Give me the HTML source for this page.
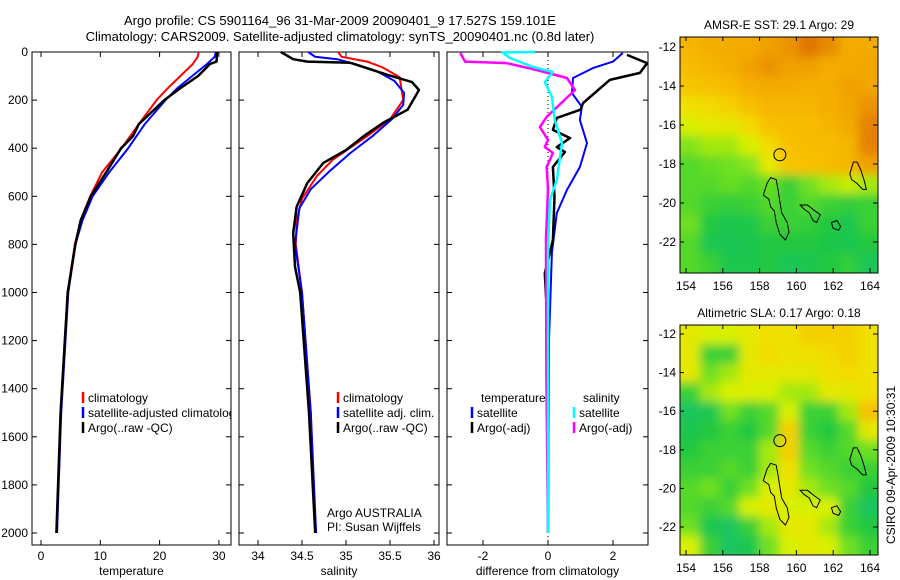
<!DOCTYPE html>
<html><head><meta charset="utf-8"><style>
html,body{margin:0;padding:0;background:#fff}
svg{display:block;font-family:"Liberation Sans",sans-serif}
</style></head><body>
<svg id="fig" width="900" height="580" viewBox="0 0 900 580" xmlns="http://www.w3.org/2000/svg">
<text x="340" y="25" font-size="13" text-anchor="middle">Argo profile: CS 5901164_96 31-Mar-2009 20090401_9 17.527S 159.101E</text>
<text x="340" y="41" font-size="13" text-anchor="middle">Climatology: CARS2009. Satellite-adjusted climatology: synTS_20090401.nc (0.8d later)</text>
<text transform="translate(895,465) rotate(-90)" font-size="12" text-anchor="middle">CSIRO 09-Apr-2009 10:30:31</text>
<g id="g"></g>
</svg>
<script>
// ---------- data ----------
const depthTicks=[0,200,400,600,800,1000,1200,1400,1600,1800,2000];
const tempTicks=[0,10,20,30];
const salTicks=[34,34.5,35,35.5,36];
const salTickLabels=["34","34.5","35","35.5","36"];
const diffTicks=[-2,0,2];
const tClimD=[0,20,50,100,150,200,300,400,500,600,700,800,1000,1200,1500,1800,2000];
const tClimV=[26.6,26.4,25.6,23.5,21.4,19.5,16.5,13.6,10.3,8.3,6.7,5.7,4.5,4.0,3.3,2.9,2.7];
const tSatD=[0,20,50,100,150,200,300,400,500,600,700,800,1000,1500,2000];
const tSatV=[29.5,29.3,28.0,25.5,23.0,21.0,17.5,14.7,11.5,8.7,7.0,5.8,4.6,3.4,2.7];
const tArgD=[0,40,50,100,150,200,300,350,400,500,600,700,800,1000,1500,2000];
const tArgV=[29.7,29.6,28.5,26.5,23.5,20.8,16.5,15.5,13.5,11.0,8.4,6.7,5.8,4.5,3.3,2.6];
const sClimD=[0,20,40,65,105,200,280,350,448,515,610,700,800,1000,1500,2000];
const sClimV=[34.91,34.95,35.24,35.42,35.61,35.65,35.5,35.24,34.85,34.67,34.5,34.44,34.43,34.5,34.6,34.65];
const sSatD=[0,20,30,50,80,120,170,220,280,350,420,500,570,650,800,1000,1500,2000];
const sSatV=[34.57,34.65,34.9,35.1,35.35,35.55,35.66,35.65,35.52,35.3,35.05,34.8,34.6,34.47,34.42,34.5,34.6,34.66];
const sArgD=[0,30,40,45,95,125,158,240,295,350,408,462,545,643,752,893,1000,1500,2000];
const sArgV=[34.26,34.4,34.56,35.05,35.47,35.75,35.83,35.7,35.42,35.2,35.0,34.74,34.56,34.44,34.4,34.42,34.48,34.58,34.65];
const dTSatD=[4,40,67,108,171,228,283,379,478,574,670,835,1200,2000];
const dTSatV=[2.3,2.0,1.38,0.77,0.74,1.04,0.98,1.2,0.98,0.58,0.27,0.12,0.03,0];
const dTArgD=[12,46,87,116,212,240,274,324,358,395,416,478,603,782,920,1043,1200,2000];
const dTArgV=[2.43,3.05,2.83,1.9,1.08,1.0,0.27,0.15,0.68,0.27,0.52,0.15,0.2,0.15,-0.1,-0.05,0,0];
const dSArgD=[4,40,46,75,108,158,270,312,366,395,420,478,570,780,1350,2000];
const dSArgV=[-2.7,-2.55,-1.27,-0.35,0.58,0.83,-0.04,-0.25,0,-0.1,0.15,-0.04,0,-0.06,-0.05,0];
const dSSatD=[0,2,25,62,83,125,187,283,379,532,615,800,2000];
const dSSatV=[-0.4,-1.4,-1.17,-0.46,0.15,-0.1,0.12,0.21,0.43,0.27,0.06,0,0];
const sstGrid=[
[.75,.78,.8,.8,.85,.88,.95,.9,.8,.8],
[.72,.75,.78,.85,.88,.85,.85,.8,.8,.82],
[.68,.7,.72,.78,.8,.8,.78,.78,.85,.82],
[.6,.62,.65,.7,.75,.75,.75,.78,.82,.88],
[.5,.55,.55,.62,.7,.72,.72,.75,.8,.92],
[.42,.45,.45,.5,.62,.7,.72,.72,.75,.92],
[.35,.38,.4,.42,.55,.68,.7,.72,.75,.85],
[.35,.35,.38,.35,.38,.3,.4,.45,.48,.45],
[.35,.3,.28,.3,.35,.3,.35,.3,.28,.3],
[.4,.25,.2,.22,.3,.3,.28,.25,.2,.3],
[.35,.2,.18,.2,.25,.25,.25,.22,.2,.25],
[.35,.3,.2,.2,.25,.18,.2,.25,.28,.18]];
const slaGrid=[
[.55,.5,.5,.55,.6,.6,.65,.65,.65,.6],
[.55,.3,.3,.55,.62,.58,.6,.62,.65,.6],
[.55,.4,.45,.55,.55,.55,.55,.6,.62,.6],
[.3,.45,.5,.52,.5,.45,.45,.55,.55,.6],
[.15,.2,.4,.3,.35,.5,.3,.3,.45,.7],
[.2,.25,.3,.25,.35,.65,.3,.25,.35,.55],
[.25,.3,.3,.3,.45,.65,.35,.3,.35,.4],
[.3,.3,.35,.3,.45,.6,.4,.35,.3,.3],
[.35,.4,.3,.4,.5,.55,.45,.4,.35,.25],
[.35,.3,.35,.5,.55,.5,.5,.5,.3,.15],
[.4,.2,.15,.3,.45,.55,.55,.45,.3,.25],
[.5,.3,.15,.2,.4,.5,.55,.5,.4,.3]];
const latTicks=[-12,-14,-16,-18,-20,-22];
const lonTicks=[154,156,158,160,162,164];
const reef1Lon=[158.4,158.6,158.9,159.0,159.1,159.2,159.5,159.6,159.4,159.1,158.9,158.8,158.6,158.5,158.2,158.4];
const reef1Lat=[-19.0,-18.7,-18.8,-19.3,-19.9,-20.5,-21.0,-21.5,-21.9,-21.6,-21.0,-20.4,-20.2,-19.8,-19.6,-19.0];
const reef2Lon=[160.2,160.6,161.0,161.3,161.1,160.9,160.7,160.4,160.2];
const reef2Lat=[-20.1,-20.1,-20.4,-20.6,-21.0,-20.9,-20.5,-20.3,-20.1];
const reef3Lon=[162.9,163.1,163.3,163.5,163.7,163.8,163.6,163.3,163.0,162.9];
const reef3Lat=[-18.5,-17.9,-17.9,-18.3,-18.9,-19.3,-19.3,-19.0,-18.8,-18.5];
const reef4Lon=[161.9,162.2,162.4,162.3,162.0,161.9];
const reef4Lat=[-21.0,-20.9,-21.2,-21.4,-21.3,-21.0];
const argoLon=159.101, argoLat=-17.527;

// ---------- helpers ----------
const NS="http://www.w3.org/2000/svg";
const G=document.getElementById('g');
function el(t,a,p){const e=document.createElementNS(NS,t);for(const k in a)e.setAttribute(k,a[k]);(p||G).appendChild(e);return e;}
const yD=d=>52+d*0.2405;
function panel(name,x0,x1,xs,ticks,labels,xlabel){
  const r=el('rect',{x:x0,y:52,width:x1-x0,height:493,fill:'none',stroke:'#000','stroke-width':1});
  
  
  ticks.forEach((v,i)=>{const x=xs(v);
    el('line',{x1:x,x2:x,y1:52,y2:57,stroke:'#000'});el('line',{x1:x,x2:x,y1:545,y2:540,stroke:'#000'});
    const t=el('text',{x:x,y:560,'font-size':12,'text-anchor':'middle'});t.textContent=labels[i];
    
    });
  depthTicks.forEach(d=>{const y=yD(d);
    el('line',{x1:x0,x2:x0+5,y1:y,y2:y,stroke:'#000'});el('line',{x1:x1,x2:x1-5,y1:y,y2:y,stroke:'#000'});});
  const xl=el('text',{x:(x0+x1)/2,y:575,'font-size':12,'text-anchor':'middle'});xl.textContent=xlabel;
  
  
}
function line(name,D,V,xs,color,w){
  const p=el('polyline',{points:D.map((d,i)=>xs(V[i]).toFixed(1)+','+yD(d).toFixed(1)).join(' '),fill:'none',stroke:color,'stroke-width':w,'stroke-linejoin':'round'});
  
  
}
function legend(name,x,y,color,label,clipW){
  el('line',{x1:x,x2:x,y1:y-10,y2:y+1,stroke:color,'stroke-width':2.5});
  const t=el('text',{x:x+5,y:y,'font-size':12});t.textContent=label;
  
  
  if(clipW)t.setAttribute('clip-path','url(#clip1)');
}
depthTicks.forEach(d=>{const t=el('text',{x:28,y:yD(d)+4,'font-size':12,'text-anchor':'end'});t.textContent=d;
  
  });
const defs=el('defs',{});
const cp=el('clipPath',{id:'clip1'},defs);el('rect',{x:32,y:0,width:199,height:580},cp);
const cpm=el('clipPath',{id:'clipm1'},defs);el('rect',{x:680,y:37,width:198,height:236},cpm);
const cpm2=el('clipPath',{id:'clipm2'},defs);el('rect',{x:680,y:325,width:198,height:230},cpm2);
const f=el('filter',{id:'blur',x:'-10%',y:'-10%',width:'120%',height:'120%'},defs);el('feGaussianBlur',{stdDeviation:5},f);

// panel 1 temperature
const xT=v=>41+5.93*v;
panel('temperature-panel',32,231,xT,tempTicks,tempTicks.map(String),'temperature');
line('temp-climatology',tClimD,tClimV,xT,'#f00',2);
line('temp-satellite-adjusted',tSatD,tSatV,xT,'#00f',2);
line('temp-argo',tArgD,tArgV,xT,'#000',2.5);
legend('legend-climatology',83,402,'#f00','climatology');
legend('legend-satellite-adjusted',83,417,'#00f','satellite-adjusted climatology',1);
legend('legend-argo',83,432,'#000','Argo(..raw -QC)');

// panel 2 salinity
const xS=v=>258+88*(v-34);
panel('salinity-panel',239,439,xS,salTicks,salTickLabels,'salinity');
line('sal-climatology',sClimD,sClimV,xS,'#f00',2);
line('sal-satellite-adjusted',sSatD,sSatV,xS,'#00f',2);
line('sal-argo',sArgD,sArgV,xS,'#000',2.5);
legend('legend-sal-climatology',338,402,'#f00','climatology');
legend('legend-sal-satellite',338,417,'#00f','satellite adj. clim.');
legend('legend-sal-argo',338,432,'#000','Argo(..raw -QC)');
let t=el('text',{x:327,y:517,'font-size':12});t.textContent='Argo AUSTRALIA';


t=el('text',{x:327,y:531,'font-size':12});t.textContent='PI: Susan Wijffels';



// panel 3 differences
const xDf=v=>548+32.5*v;
panel('difference-panel',447,648,xDf,diffTicks,diffTicks.map(String),'difference from climatology');
el('line',{x1:xDf(0),x2:xDf(0),y1:52,y2:545,stroke:'#000','stroke-dasharray':'1,3'});
line('diff-temp-satellite',dTSatD,dTSatV,xDf,'#00f',2);
line('diff-temp-argo',dTArgD,dTArgV,xDf,'#000',2.5);
line('diff-sal-argo',dSArgD,dSArgV,xDf,'#f0f',2.5);
line('diff-sal-satellite',dSSatD,dSSatV,xDf,'#0ff',2.5);
t=el('text',{x:481,y:402,'font-size':12});t.textContent='temperature';


t=el('text',{x:583,y:402,'font-size':12});t.textContent='salinity';


legend('legend-diff-temp-satellite',472,417,'#00f','satellite');
legend('legend-diff-temp-argo',472,432,'#000','Argo(-adj)');
legend('legend-diff-sal-satellite',574,417,'#0ff','satellite');
legend('legend-diff-sal-argo',574,432,'#f0f','Argo(-adj)');

// maps
const stops=[[0,[16,192,144]],[.25,[32,200,64]],[.4,[112,224,32]],[.5,[216,240,0]],[.6,[240,224,0]],[.7,[248,192,0]],[.85,[240,160,0]],[1,[216,96,0]]];
function col(v){for(let i=1;i<stops.length;i++){if(v<=stops[i][0]){const a=stops[i-1],b=stops[i],f=(v-a[0])/(b[0]-a[0]);return 'rgb('+a[1].map((c,k)=>Math.round(c+f*(b[1][k]-c))).join(',')+')';}}return 'rgb(216,96,0)';}
function map(name,top,bottom,y12,degPx,grid,title,clipId){
  const H=bottom-top;
  const mx=lon=>686+18.4*(lon-154), my=lat=>y12+degPx*(-12-lat);
  const tt=el('text',{x:779,y:top-8,'font-size':12,'text-anchor':'middle'});tt.textContent=title;
  
  
  const gc=el('g',{'clip-path':'url(#'+clipId+')'});
  el('rect',{x:680,y:top,width:198,height:H,fill:col(grid[6][5])},gc);
  const gb=el('g',{filter:'url(#blur)'},gc);
  const cw=198/10, ch=H/12;
  grid.forEach((row,r)=>row.forEach((v,c)=>{
    let x=680+c*cw, y=top+r*ch, w=cw+0.5, h=ch+0.5;
    if(c==0){x-=8;w+=8;} if(c==9){w+=8;}
    if(r==0){y-=8;h+=8;} if(r==11){h+=8;}
    const cell=el('rect',{x:x.toFixed(1),y:y.toFixed(1),width:w.toFixed(1),height:h.toFixed(1),fill:col(v)},gb);
    
    
  }));
  [[reef1Lon,reef1Lat],[reef2Lon,reef2Lat],[reef3Lon,reef3Lat],[reef4Lon,reef4Lat]].forEach(([lo,la])=>{
    const p=el('polygon',{points:lo.map((l,i)=>mx(l).toFixed(1)+','+my(la[i]).toFixed(1)).join(' '),fill:'none',stroke:'#000','stroke-width':1},gc);
    
    
  });
  const c=el('circle',{cx:mx(argoLon),cy:my(argoLat),r:6,fill:'none',stroke:'#000','stroke-width':1});
  
  
  el('rect',{x:680,y:top,width:198,height:H,fill:'none',stroke:'#000'});
  latTicks.forEach(l=>{const y=my(l);el('line',{x1:878,x2:873,y1:y,y2:y,stroke:'#000'});el('line',{x1:680,x2:684,y1:y,y2:y,stroke:'#000'});
    const tl=el('text',{x:676,y:y+4,'font-size':12,'text-anchor':'end'});tl.textContent=l;
    
    });
  lonTicks.forEach(l=>{const x=mx(l);el('line',{x1:x,x2:x,y1:bottom,y2:bottom-5,stroke:'#000'});el('line',{x1:x,x2:x,y1:top,y2:top+4,stroke:'#000'});
    const tl=el('text',{x:x,y:bottom+17,'font-size':12,'text-anchor':'middle'});tl.textContent=l;
    
    });
}
map('sst-map',37,273,47,19.5,sstGrid,'AMSR-E SST: 29.1 Argo: 29','clipm1');
map('sla-map',325,555,334,19.3,slaGrid,'Altimetric SLA: 0.17 Argo: 0.18','clipm2');
</script>
</body></html>
